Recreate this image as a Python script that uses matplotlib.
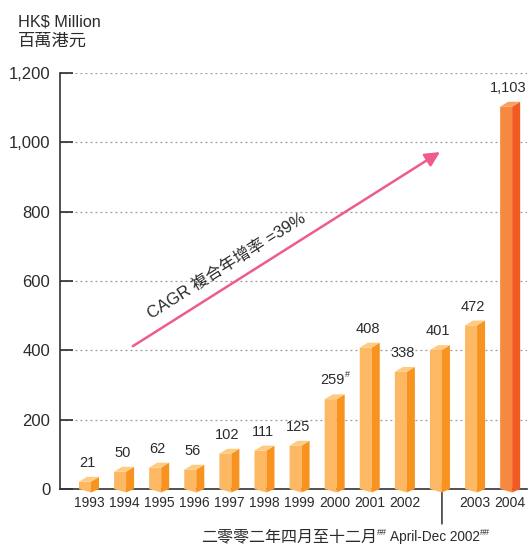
#!/usr/bin/env python3
# -*- coding: utf-8 -*-

import matplotlib
matplotlib.use('Agg')
import matplotlib.pyplot as plt
from matplotlib.patches import Polygon
from matplotlib import font_manager

# data
years = ['1993', '1994', '1995', '1996', '1997', '1998', '1999',
         '2000', '2001', '2002', '', '2003', '2004']
values = [21, 50, 62, 56, 102, 111, 125, 259, 408, 338, 401, 472, 1103]
value_labels = ['21', '50', '62', '56', '102', '111', '125', '259', '408',
                '338', '401', '472', '1,103']
yticks = [0, 200, 400, 600, 800, 1000, 1200]
ytick_labels = ['0', '200', '400', '600', '800', '1,000', '1,200']

cagr_text = 'CAGR 複合年增率 =39%'
unit_en = 'HK$ Million'
unit_zh = '百萬港元'
note_zh = '二零零二年四月至十二月'
note_en = ' April-Dec 2002'

# fonts
names = {f.name for f in font_manager.fontManager.ttflist}
latin = 'Liberation Sans Narrow' if 'Liberation Sans Narrow' in names else 'Liberation Sans'
FONT = [latin, 'Noto Sans CJK TC', 'DejaVu Sans']
plt.rcParams['font.family'] = FONT
TXT = '#2b2b2b'

# colours
front_c, side_c, top_c = '#FDB863', '#F7931E', '#FECB80'
front_hi, side_hi, top_hi = '#F6883F', '#F15A22', '#F7A060'

W, H = 530, 545
fig = plt.figure(figsize=(W / 100, H / 100), dpi=100)
ax = fig.add_axes([60 / W, (H - 489) / H, (527 - 60) / W, (489 - 73) / H])
ax.set_xlim(-0.826, 12.48)
ax.set_ylim(0, 1200)

# 3d-ish bar geometry (in data units)
fl, fr, sr = -0.285, 0.057, 0.285   # front-left, front-right, side-right offsets
dy = 14                              # depth rise of top/side
dv = 10                              # V point below axis

for i, v in enumerate(values):
    last = i == len(values) - 1
    fc, sc, tc = (front_hi, side_hi, top_hi) if last else (front_c, side_c, top_c)
    front = Polygon([(i + fl, 0), (i + fr, -dv), (i + fr, v), (i + fl, v)],
                    closed=True, fc=fc, ec='none', zorder=4, clip_on=False)
    side = Polygon([(i + fr, -dv), (i + sr, 0), (i + sr, v + dy), (i + fr, v)],
                   closed=True, fc=sc, ec='none', zorder=4, clip_on=False)
    top = Polygon([(i + fl, v), (i + fr, v), (i + sr, v + dy),
                   (i + fl + (sr - fr), v + dy)],
                  closed=True, fc=tc, ec='none', zorder=4, clip_on=False)
    for p in (front, side, top):
        ax.add_patch(p)
    ax.annotate(value_labels[i], (i - 0.05, v + dy), xytext=(0, 5),
                textcoords='offset points', ha='center', va='bottom',
                fontsize=10.5, color=TXT, annotation_clip=False)

# superscript mark on 2000 value
i2000 = years.index('2000')
ax.annotate('#', (i2000 - 0.05, values[i2000] + dy), xytext=(8.5, 11),
            textcoords='offset points', ha='left', va='bottom',
            fontsize=6.5, color=TXT, annotation_clip=False)

# axes styling
ax.set_xticks(range(len(years)))
ax.set_xticklabels(years)
ax.set_yticks(yticks)
ax.set_yticklabels(ytick_labels)
ax.tick_params(axis='x', length=0, pad=5, labelsize=10, colors=TXT)
ax.tick_params(axis='y', direction='in', length=9, width=1.2, pad=7,
               labelsize=12, colors=TXT)
for s in ('top', 'right'):
    ax.spines[s].set_visible(False)
for s in ('left', 'bottom'):
    ax.spines[s].set_color('#333333')
    ax.spines[s].set_linewidth(1.2)
ax.yaxis.grid(True, linestyle=(0, (1.5, 2.5)), color='#999999', lw=0.9)
ax.set_axisbelow(True)

# CAGR arrow
ax.annotate('', xy=(10.0, 972), xytext=(1.25, 412),
            arrowprops=dict(arrowstyle='-|>', color='#EE5C8C', lw=1.8,
                            mutation_scale=22, shrinkA=0, shrinkB=0))
ax.text(3.93, 643, cagr_text, rotation=32.3, rotation_mode='anchor',
        ha='center', va='center', fontsize=12, color=TXT)

# pointer to April-Dec 2002 bar
ax.annotate('', xy=(10 + fr, 23), xytext=(10 + fr, -101),
            arrowprops=dict(arrowstyle='-|>', color='black', lw=0.9,
                            mutation_scale=8, shrinkA=0, shrinkB=0),
            annotation_clip=False)

# unit labels
fig.text(18 / W, 1 - 14 / H, unit_en, ha='left', va='top', fontsize=11.7, color=TXT)
fig.text(18 / W, 1 - 33 / H, unit_zh, ha='left', va='top', fontsize=12.4, color=TXT)

# footnote built from pieces so superscripts sit right
fig.canvas.draw()
r = fig.canvas.get_renderer()
parts = [(note_zh, 11.5, 0), ('##', 6.5, 6), (note_en, 9.8, 0), ('##', 6.5, 6)]
base_y = 1 - 541 / H
x = 201
for txt, fs, up in parts:
    t = fig.text(x / W, base_y + up / H, txt, ha='left', va='baseline',
                 fontsize=fs, color=TXT)
    x += t.get_window_extent(r).width

fig.savefig('out.png', dpi=100)
